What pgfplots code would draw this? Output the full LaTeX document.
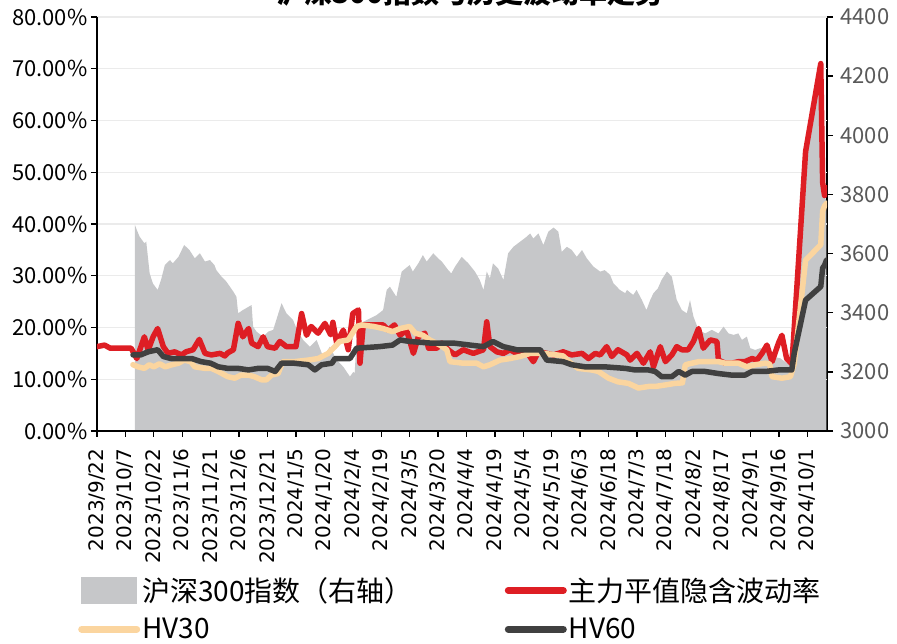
\documentclass[border=0pt]{standalone}
\usepackage{pgfplots}
\pgfplotsset{compat=1.18}
\usepackage{fontspec}
\setmainfont{Noto Sans CJK SC}
\newfontfamily\xfont{DejaVu Sans}

\definecolor{ivred}{RGB}{222,30,36}
\definecolor{hvthirty}{RGB}{251,213,159}
\definecolor{hvsixty}{RGB}{64,64,64}
\definecolor{idxgray}{RGB}{198,199,201}
\definecolor{gridc}{RGB}{235,235,235}
\definecolor{rlab}{RGB}{89,89,89}

% x = days since 2023/9/22
\pgfplotstableread{
d v
20 3000
20 3697
21 3680
22.5 3657
25 3635
26 3640
27.8 3533
29.5 3499
32 3477
33.8 3511
35.8 3561
38.5 3578
40 3567
43 3589
46 3629
48.8 3612
51.6 3584
54.3 3601
57 3573
59.6 3578
62 3561
63 3544
65.7 3522
68.3 3505
72 3471
73.6 3454
74.5 3398
77 3409
81.6 3426
82.4 3353
84.2 3336
87.7 3319
90.4 3336
93 3342
97.4 3432
100 3398
103.5 3375
106 3336
108.8 3308
112.4 3285
115.9 3308
119.4 3251
122.9 3285
126.5 3240
130 3217
133.5 3184
135.3 3200
136 3195
137 3312
138.8 3364
142.3 3375
147.6 3392
151 3409
152.9 3477
154.6 3488
158 3454
160.8 3539
165 3561
166.7 3539
169.6 3567
172 3595
174 3573
177.5 3601
180 3584
182 3573
185.4 3544
187 3533
189 3556
192.5 3589
196 3567
199.5 3539
202 3511
204 3477
205.7 3539
207.4 3516
209 3567
211.7 3550
214.5 3511
217 3601
219.8 3623
223.3 3640
226.8 3657
228.6 3668
230.3 3651
233 3668
235.6 3629
238.2 3674
241 3688
243.5 3674
245.3 3606
248 3623
250.6 3612
253.2 3589
256 3612
258.5 3584
262 3556
265.6 3539
268 3544
270.8 3528
272.6 3499
276 3477
278.8 3466
279.7 3477
283 3460
284.8 3477
287.6 3443
290 3409
292 3443
293.7 3466
296 3482
298 3511
300.8 3539
303.4 3522
306 3443
308.7 3409
311.3 3398
313 3443
314.8 3387
317.5 3342
321 3330
324.5 3342
328 3330
330.7 3353
333.3 3330
336 3325
338.5 3330
340.4 3308
343 3319
344.8 3280
347.4 3274
350 3280
353.6 3274
357 3251
360.6 3246
364.2 3229
366.8 3240
368 3348
369 3400
370 3540
371 3650
374 3940
382 4230
383 3800
384 3790
385 3780
385 3000
}\idxtable

\pgfplotstableread{
d v
0 16.3
4 16.6
7 16.0
18 16.0
21 14.0
25 18.2
27 15.6
29.6 18.2
32 19.8
35 16.3
37.5 15.0
41 15.3
44.6 14.7
47 15.3
50.7 15.7
54 17.7
57 15.0
60.4 14.7
65 15.0
67.5 14.5
69 15.1
72 15.7
74.5 20.8
77 18.2
80 19.8
81.6 17.0
85 16.3
87.7 18.2
90 16.3
94 16.0
96.5 17.3
100 16.3
105 16.3
108 22.7
110.6 18.5
113 20.2
116.7 18.9
120.3 20.8
123.3 18.6
124.5 21.0
126.5 17.0
130 19.5
132.6 15.7
135 22.7
138 23.4
138.8 13.1
140.5 20.5
151 20.5
153.7 19.5
157 20.5
160 18.5
163.4 19.5
167 15.0
169.6 18.2
173 18.9
175 16.0
179.3 16.0
182 17.0
185.4 15.7
189 14.7
193.3 15.7
198.6 15.0
204 15.7
205.7 21.1
207.4 16.3
211 15.3
214.5 15.0
218 15.7
221.5 15.0
226.8 15.3
230.3 13.4
233 15.3
237.4 15.0
241 14.7
246 15.3
250.6 14.7
256 15.0
259.4 14.0
263 15.0
265.6 14.7
269 16.3
271.7 14.4
275 15.7
279.7 14.7
281.4 13.7
285 15.0
288.4 13.1
292 15.3
293.7 12.4
297.3 16.3
300 13.4
303.4 14.7
306 16.3
308.7 15.7
312 15.7
314.8 17.3
317.5 19.8
320 16.0
323.7 17.6
327.2 17.3
328 13.7
331.6 13.1
335 13.1
338.6 13.4
342 13.4
345.7 14.0
348.3 13.7
351 15.0
353.6 16.6
356.3 13.4
359.7 17.0
361.5 18.5
364 14.0
366.7 13.0
367.5 17.0
374 54.0
382 71.0
383 48.0
384 45.5
385 47.0
}\ivtable

\pgfplotstableread{
d v
19 12.8
21.7 12.4
25 12.1
27.6 12.8
30 12.4
33 13.0
36 12.4
39.5 12.8
43 13.1
46 13.7
49.5 13.4
51.6 12.4
57 12.1
60.4 12.1
64 11.5
69 10.5
72.7 10.2
76 10.8
80 10.8
83 10.5
86.8 9.9
89.5 9.9
92 10.8
95.6 11.1
98 13.4
104 13.4
111.5 13.7
116.7 14.0
122 15.0
125.6 16.3
128 17.3
132.6 17.6
137 20.2
139.7 20.5
146 20.2
151 19.8
156 19.2
160 19.8
165 20.2
168 18.9
172 18.5
175.7 17.6
181 16.6
184.6 15.7
186.3 13.4
193.3 13.1
200.4 13.1
204 12.4
207.4 12.8
212.7 13.7
218 14.0
223.3 14.4
228.6 15.0
235.6 15.0
242.7 14.7
246 14.5
249 13.4
254 12.1
261 11.8
264.7 11.5
270 10.2
275 9.5
280.5 9.2
285.8 8.3
291 8.6
294.6 8.6
300 8.9
305 9.2
309 9.3
310.5 12.8
317.5 13.4
322.8 13.4
328 13.4
331.6 13.1
338.6 13.1
343 12.4
347.4 12.8
352.7 13.1
355 13.0
356.3 10.5
361.5 10.2
366 10.5
368 13.0
374 33.0
382 36.0
383 42.5
384 43.5
385 44.0
}\hvthirtytable

\pgfplotstableread{
d v
19 14.7
23 14.7
27 15.3
32 15.7
35 14.4
39 14.0
44.6 14.0
50 14.0
55 13.4
60 13.1
64 12.4
69 12.1
74.5 12.1
80 11.8
85 12.1
90 12.1
94 11.5
97.4 13.1
104 13.1
111.5 12.8
115 11.8
118.5 12.8
124 13.1
125.6 14.0
133.5 14.0
137 16.0
149 16.3
156 16.6
160 17.6
165 17.3
175.7 17.0
188 17.0
197 16.6
204 16.3
209 17.3
214.5 16.3
221.5 15.7
233.9 15.7
237.4 13.7
246 13.4
250.6 12.8
257.6 12.4
268 12.4
278.8 12.1
284 11.8
291 11.8
294.6 11.5
298 10.5
303.4 10.5
307 11.5
310.5 10.8
314 11.5
321 11.5
328 11.1
335 10.8
342 10.8
345.7 11.5
352.7 11.5
359.7 11.8
366.7 11.8
368 15.0
374 25.3
382 27.9
383 31.5
384 32.0
385 33.0
}\hvsixtytable

\begin{document}
\begin{tikzpicture}
\pgfplotsset{
  every axis/.append style={
    width=730pt, height=414pt, scale only axis,
    xmin=0, xmax=385.3,
    axis line style={line width=1.3pt, black},
    major tick style={line width=1.3pt, black},
    major tick length=6pt,
    tick align=outside,
    tick label style={font=\fontsize{22}{24}\selectfont},
  }
}
% index area, right axis
\begin{axis}[
  axis y line*=right,
  axis x line=none,
  ymin=3000, ymax=4400,
  ytick={3000,3200,3400,3600,3800,4000,4200,4400},
  yticklabels={3000,3200,3400,3600,3800,4000,4200,4400},
  yticklabel style={text=rlab, xshift=4pt},
  extra y ticks={3175,3350,3525,3700,3875,4050,4225,4400},
  extra y tick labels={},
  extra y tick style={major tick length=0pt, grid=major},
  grid style={draw=gridc, line width=1.3pt},
]
\addplot[fill=idxgray, draw=none] table[x=d, y=v] {\idxtable} -- cycle;
\end{axis}

% volatility lines, left axis
\begin{axis}[
  axis y line*=left,
  axis x line*=bottom,
  ymin=0, ymax=80,
  ytick={0,10,20,30,40,50,60,70,80},
  yticklabels={0.00\%,10.00\%,20.00\%,30.00\%,40.00\%,50.00\%,60.00\%,70.00\%,80.00\%},
  xtick={0,15,...,375},
  xticklabels={2023/9/22,2023/10/7,2023/10/22,2023/11/6,2023/11/21,2023/12/6,2023/12/21,2024/1/5,2024/1/20,2024/2/4,2024/2/19,2024/3/5,2024/3/20,2024/4/4,2024/4/19,2024/5/4,2024/5/19,2024/6/3,2024/6/18,2024/7/3,2024/7/18,2024/8/2,2024/8/17,2024/9/1,2024/9/16,2024/10/1},
  xticklabel style={rotate=90, anchor=east, font=\xfont\fontsize{20}{22}\selectfont},
  xticklabel shift=8pt,
  legend columns=2,
  legend style={at={(-22pt,-178pt)}, anchor=west, draw=none, fill=none,
    font=\fontsize{28}{32}\selectfont, row sep=11pt,
    /tikz/every even column/.append style={column sep=90pt}},
  legend cell align=left,
]
\addlegendimage{legend image code/.code={\fill[idxgray] (0pt,-13pt) rectangle (55pt,13pt);}}
\addlegendentry{沪深300指数（右轴）}
\addplot[ivred, line width=5.5pt, line join=round, line cap=round,
  legend image code/.code={\draw[ivred, line width=7pt, line cap=round] (0pt,0pt) -- (55pt,0pt);}]
  table[x=d, y=v] {\ivtable};
\addlegendentry{主力平值隐含波动率}
\addplot[hvthirty, line width=5.5pt, line join=round, line cap=round,
  legend image code/.code={\draw[hvthirty, line width=7pt, line cap=round] (0pt,0pt) -- (55pt,0pt);}]
  table[x=d, y=v] {\hvthirtytable};
\addlegendentry{HV30}
\addplot[hvsixty, line width=5.5pt, line join=round, line cap=round,
  legend image code/.code={\draw[hvsixty, line width=7pt, line cap=round] (0pt,0pt) -- (55pt,0pt);}]
  table[x=d, y=v] {\hvsixtytable};
\addlegendentry{HV60}
\end{axis}

\node[anchor=base, font=\fontsize{28}{30}\selectfont\bfseries] at (373pt,427pt) {沪深300指数与历史波动率走势};
\pgfresetboundingbox
\path[use as bounding box] (-97pt,-213pt) rectangle (800pt,431pt);
\end{tikzpicture}
\end{document}
